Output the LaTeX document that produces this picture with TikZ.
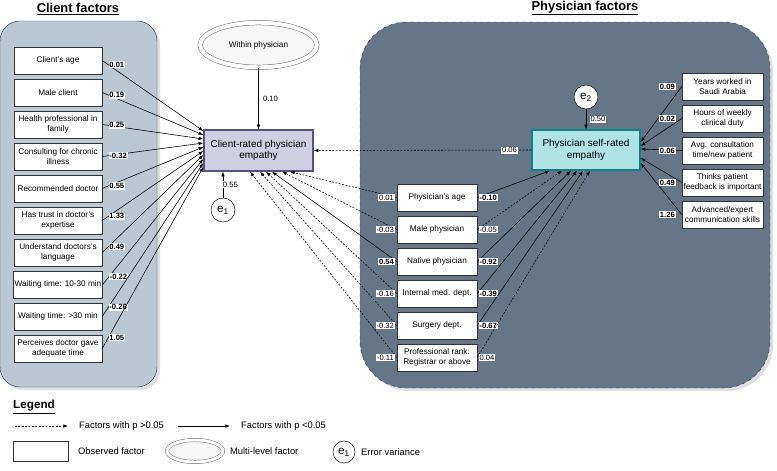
\documentclass[tikz,border=0pt]{standalone}
\usepackage{fontspec}
\setmainfont{Liberation Sans}
\usetikzlibrary{arrows.meta}
\usetikzlibrary{shapes.geometric}
\usetikzlibrary{shadows}
\definecolor{clientfill}{HTML}{BAC8D3}
\definecolor{clientline}{HTML}{23445D}
\definecolor{physfill}{HTML}{647687}
\definecolor{physline}{HTML}{314354}
\definecolor{crefill}{HTML}{D0CEE2}
\definecolor{creline}{HTML}{56517E}
\definecolor{srefill}{HTML}{B0E3E6}
\definecolor{sreline}{HTML}{0E8088}
\tikzstyle{box} = [draw=black!80, fill=white, align=center, font=\fontsize{7}{8.4}\selectfont, inner sep=1pt]
\tikzstyle{cfactor} = [box, minimum width=2.64cm, minimum height=0.81cm]
\tikzstyle{pfactor} = [box, minimum width=2.4cm, minimum height=0.81cm]
\tikzstyle{rfactor} = [box, minimum width=2.43cm, minimum height=0.81cm]
\tikzstyle{outcome} = [draw, line width=1.2pt, align=center, font=\fontsize{8.5}{10}\selectfont, minimum width=3.27cm, minimum height=1.23cm]
\tikzstyle{errvar} = [circle, draw, fill=white, minimum size=0.72cm, inner sep=0pt, font=\fontsize{10}{12}\selectfont]
\tikzstyle{multilevel} = [ellipse, draw=black!60, double, double distance=3.5pt, fill=gray!6, minimum width=3.5cm, minimum height=1.34cm, font=\fontsize{7}{8.4}\selectfont]
\tikzstyle{coef} = [fill=white, inner sep=0.7pt, font=\fontsize{6.5}{7}\selectfont]
\tikzstyle{sig} = [-{Latex[length=4pt,width=3pt]}, line width=0.5pt]
\tikzstyle{nonsig} = [sig, dash pattern=on 1.6pt off 1.3pt]
\tikzstyle{title} = [font=\fontsize{11}{13}\selectfont\bfseries]
\tikzstyle{legtext} = [font=\fontsize{8}{9.6}\selectfont, anchor=west]

\begin{document}
\begin{tikzpicture}[x=0.03cm, y=-0.03cm]
    \useasboundingbox (0,0) rectangle (777,470);

    \path[fill=clientfill, draw=clientline, rounded corners=0.6cm, drop shadow={opacity=0.25}] (0,21) rectangle (157,387);
    \path[fill=physfill, draw=physline, dashed, rounded corners=1.4cm, drop shadow={opacity=0.25}] (360,22) rectangle (770,388);

    \node[title] (ctitle) at (78,9) {\underline{Client factors}};
    \node[title] (ptitle) at (585,8) {\underline{Physician factors}};

    \node[multilevel] (wp) at (258.5,45) {Within physician};
    \node[outcome, fill=crefill, draw=creline] (cre) at (258.5,150.5) {Client-rated physician\\empathy};
    \node[outcome, fill=srefill, draw=sreline, minimum width=3.24cm, minimum height=1.2cm] (sre) at (586,150) {Physician self-rated\\empathy};
    \node[errvar] (e1) at (223,210) {e\textsubscript{1}};
    \node[errvar] (e2) at (586,97) {e\textsubscript{2}};

    \foreach \i/\txt/\c in {
        1/{Client's age}/0.01,
        2/{Male client}/0.19,
        3/{Health professional in\\family}/0.25,
        4/{Consulting for chronic\\illness}/-0.32,
        5/{Recommended doctor}/0.55,
        6/{Has trust in doctor's\\expertise}/1.33,
        7/{Understand doctors's\\language}/0.49,
        8/{Waiting time: 10-30 min}/-0.22,
        9/{Waiting time: >30 min}/-0.26,
        10/{Perceives doctor gave\\adequate time}/1.05}{
        \node[cfactor] (c\i) at (58,{60.5+32*(\i-1)}) {\txt};
        \draw[sig] (c\i.east) -- node[coef, pos=0.06, anchor=west]{\textbf{\c}} ([yshift={(19.5-4*(\i-1))*0.03cm}]cre.west);
    }

    \foreach \i/\txt/\ca/\la/\cb/\lb/\dx/\dy in {
        1/{Physician's age}/0.01/nonsig/\textbf{-0.10}/sig/-36/31.5,
        2/{Male physician}/-0.03/nonsig/-0.05/nonsig/-24/23.5,
        3/{Native physician}/\textbf{0.54}/sig/\textbf{-0.92}/sig/-15/13.5,
        4/{Internal med. dept.}/-0.16/nonsig/\textbf{-0.39}/sig/-9/7.5,
        5/{Surgery dept.}/-0.32/nonsig/\textbf{-0.67}/sig/-3/1.5,
        6/{Professional rank:\\Registrar or above}/-0.11/nonsig/0.04/nonsig/4/-8.5}{
        \node[pfactor] (p\i) at (437,{197.5+32*(\i-1)}) {\txt};
        \draw[\la] (p\i.west) -- node[coef, at start, anchor=east, xshift=-1.5pt]{\ca} ([xshift={\dy*0.03cm}]cre.south);
        \draw[\lb] (p\i.east) -- node[coef, at start, anchor=west, xshift=1pt]{\cb} ([xshift={\dx*0.03cm}]sre.south);
    }

    \foreach \i/\txt/\c/\dy in {
        1/{Years worked in\\Saudi Arabia}/0.09/8,
        2/{Hours of weekly\\clinical duty}/0.02/4,
        3/{Avg. consultation\\time/new patient}/0.06/1,
        4/{Thinks patient\\feedback is important}/0.49/-8,
        5/{Advanced/expert\\communication skills}/1.26/-13}{
        \node[rfactor] (r\i) at (722.5,{86.5+32*(\i-1)}) {\txt};
        \draw[sig] (r\i.west) -- node[coef, at start, anchor=east, xshift=-5pt]{\textbf{\c}} ([yshift={\dy*0.03cm}]sre.east);
    }

    \draw[sig] (wp.south) -- node[coef, midway, anchor=west, xshift=3pt]{0.10} (cre.north);
    \draw[sig] (e1) -- node[coef, midway, anchor=west, xshift=-1pt]{0.55} (e1 |- cre.south);
    \draw[sig] (e2) -- node[coef, midway, anchor=west, xshift=3pt]{0.50} (sre.north);
    \draw[nonsig] (sre.west) -- node[coef, pos=0.1]{0.06} (cre.east);

    \node[font=\fontsize{10}{12}\selectfont\bfseries] (legend) at (34,407) {\underline{Legend}};
    \coordinate (d1) at (15,426);
    \coordinate (d2) at (68,426);
    \draw[nonsig] (d1) -- (d2);
    \node[legtext] (dtxt) at (75,426) {Factors with p >0.05};
    \coordinate (s1) at (178,426);
    \coordinate (s2) at (230,426);
    \draw[sig] (s1) -- (s2);
    \node[legtext] (stxt) at (237,426) {Factors with p <0.05};
    \node[box, minimum width=1.65cm, minimum height=0.6cm] (lbox) at (40.5,451) {};
    \node[legtext] (btxt) at (74,451) {Observed factor};
    \node[multilevel, minimum width=1.68cm, minimum height=0.66cm, double distance=2.5pt] (lell) at (195,451) {};
    \node[legtext] (etxt) at (226,451) {Multi-level factor};
    \node[errvar, minimum size=0.66cm] (le) at (344,452) {e\textsubscript{1}};
    \node[legtext] (vtxt) at (357,452) {Error variance};
\end{tikzpicture}
\end{document}
